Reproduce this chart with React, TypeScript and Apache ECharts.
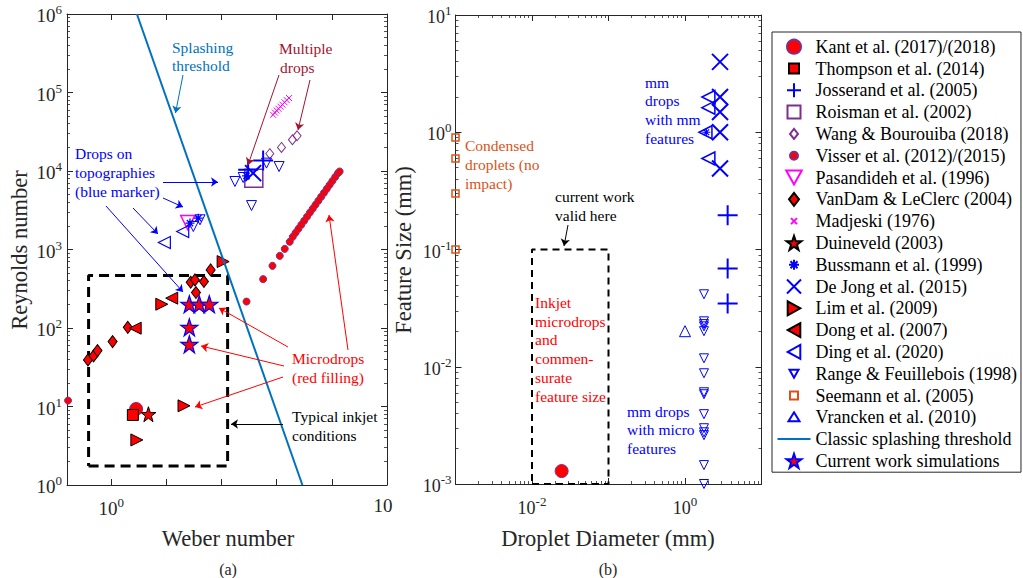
import React, { useEffect, useRef } from 'react';
import * as echarts from 'echarts';

const FONT = '"Liberation Serif", "Times New Roman", Times, serif';
const AX = '#262626';
const RED = '#FF0000';
const BLUE = '#0000FF';
const PURPLE = '#7E2F8E';
const MAGENTA = '#FF00FF';
const ORANGE = '#D95319';
const LINEBLUE = '#0072BD';
const DARKRED = '#A2142F';
const NONE = 'rgba(0,0,0,0)';

// ---------- Panel (a): Weber number vs Reynolds number ----------
const weberRange = [0.158, 1e5];
const reynoldsRange = [1, 1e6];
const weberLabelExps = [0, 5];
const weberLabelSups = ['0', ''];
const reynoldsLabelExps = [0, 1, 2, 3, 4, 5, 6];
const reynoldsLabelSups = ['0', '1', '2', '3', '4', '5', '6'];

const kantA = [[2.83, 9.3]];
const thompsonA = [[2.47, 7.8]];
const josserandA = [[304, 10350], [568, 13600]];
const roismanA = [[385, 8110]];
const wangA = [[750, 16600], [1222, 19950], [1931, 25000], [2340, 28100]];
const visserA = [
  [0.165, 11.9], [284, 217], [568, 419], [839, 619], [1138, 830], [1400, 1019], [1725, 1253],
  [1955, 1450], [2200, 1630], [2480, 1835], [2800, 2070], [3150, 2325], [3550, 2620], [4000, 2950],
  [4500, 3310], [5050, 3710], [5700, 4180], [6400, 4690], [7200, 5270], [8100, 5920], [9100, 6640],
  [10200, 7440], [11500, 8380], [12900, 9380], [13840, 9860],
];
const pasandidehA = [[24.4, 2207]];
const vanDamA = [
  [0.379, 39.2], [0.479, 44.1], [0.565, 51.5], [1.06, 67.1], [2.0, 102], [27.6, 383], [33, 410],
  [34.4, 283], [48, 391], [63.5, 550],
];
const madjeskiA = [
  [861, 52000], [930, 55500], [1000, 59000], [1080, 62000], [1170, 66000], [1270, 70000],
  [1390, 75000], [1520, 80000], [1675, 85000],
];
const duineveldA = [[4.73, 7.97]];
const bussmannA = [[26.8, 2170], [37.9, 2510], [284, 8690]];
const deJongA = [[374, 9400]];
const limA = [[2.92, 3.75], [20.9, 10.2], [8.26, 201], [107, 702]];
const dongA = [[2.72, 99.4], [12.5, 240]];
const dingA = [[9.2, 1227], [19.8, 1694]];
const rangeA = [[175, 7350], [247, 8260], [350, 3630], [1105, 11400], [654, 12600], [30.8, 1963], [40.7, 2390]];
const currentA = [[26.1, 201], [39.5, 201], [60, 201], [26.1, 102], [26.1, 62]];
const splashWe = [2.92, 2925];
const splashRe = [1e6, 1];
const inkjetBoxWe = [0.389, 129];
const inkjetBoxRe = [1.75, 466];

// ---------- Panel (b): Droplet diameter vs feature size ----------
const diameterRange = [1e-3, 10];
const featureRange = [1e-3, 10];
const diameterLabelExps = [-2, 0];
const diameterLabelSups = ['-2', '0'];
const featureLabelExps = [-3, -2, -1, 0, 1];
const featureLabelSups = ['-3', '-2', '-1', '0', '1'];

const kantB = [[0.0244, 0.00129]];
const josserandB = [[3.61, 0.196], [3.61, 0.0688], [3.61, 0.0346]];
const deJongB = [[2.87, 3.98], [2.87, 2.0], [2.87, 1.49], [2.87, 1.0], [2.87, 0.49]];
const dingB = [[2.02, 2.0], [2.02, 1.62], [1.85, 1.0], [2.02, 0.597]];
const bussmannB = [[1.9, 1.0]];
const rangeB = [
  [1.77, 0.0415], [1.77, 0.0244], [1.77, 0.0231], [1.77, 0.0221], [1.77, 0.0201], [1.77, 0.0118],
  [1.77, 0.0088], [1.77, 0.00606], [1.77, 0.00583], [1.77, 0.00394], [1.77, 0.00299],
  [1.77, 0.00276], [1.77, 0.00261], [1.77, 0.00145], [1.77, 0.001],
];
const seemannB = [[0.001, 0.9], [0.001, 0.597], [0.001, 0.3], [0.001, 0.1]];
const vranckenB = [[1.0, 0.0201]];
const currentBoxD = [0.01, 0.1];
const currentBoxF = [0.001, 0.1];

const legendNames = [
  'Kant et al. (2017)/(2018)', 'Thompson et al. (2014)', 'Josserand et al. (2005)', 'Roisman et al. (2002)',
  'Wang & Bourouiba (2018)', 'Visser et al. (2012)/(2015)', 'Pasandideh et al. (1996)', 'VanDam & LeClerc (2004)',
  'Madjeski (1976)', 'Duineveld (2003)', 'Bussmann et al. (1999)', 'De Jong et al. (2015)', 'Lim et al. (2009)',
  'Dong et al. (2007)', 'Ding et al. (2020)', 'Range & Feuillebois (1998)', 'Seemann et al. (2005)',
  'Vrancken et al. (2010)', 'Classic splashing threshold', 'Current work simulations',
];
// legend icons drawn in a 14x14 box (leading moves fix the box so smaller markers stay small)
const BOX = 'M-7,-7M7,7';
const legendIcons: Record<string, string> = {
  'Thompson et al. (2014)': `path://${BOX}M-5,-5H5V5H-5Z`,
  'Roisman et al. (2002)': `path://${BOX}M-6.5,-6.5H6.5V6.5H-6.5Z`,
  'Wang & Bourouiba (2018)': `path://${BOX}M0,-5L4,0L0,5L-4,0Z`,
  'Visser et al. (2012)/(2015)': `path://${BOX}M-4,0A4,4 0 1,0 4,0A4,4 0 1,0 -4,0Z`,
  'VanDam & LeClerc (2004)': `path://${BOX}M0,-6.5L5,0L0,6.5L-5,0Z`,
  'Madjeski (1976)': `path://${BOX}M-3,-3L3,3M3,-3L-3,3`,
  'Bussmann et al. (1999)': `path://${BOX}M0,-5V5M-5,0H5M-3.5,-3.5L3.5,3.5M3.5,-3.5L-3.5,3.5`,
  'Range & Feuillebois (1998)': `path://${BOX}M-4.5,-4L4.5,-4L0,4Z`,
  'Seemann et al. (2005)': `path://${BOX}M-4,-4H4V4H-4Z`,
  'Vrancken et al. (2010)': `path://${BOX}M0,-5L5.5,4L-5.5,4Z`,
  'Classic splashing threshold': 'path://M0,0H33V2H0Z',
};

// ---------- annotations (pixel positions) ----------
const notes: [number, number, string, string][] = [
  [172, 47, 'Splashing', LINEBLUE], [172, 65, 'threshold', LINEBLUE],
  [279, 48, 'Multiple', DARKRED], [280, 67, 'drops', DARKRED],
  [75, 153, 'Drops on', BLUE], [75, 172, 'topographies', BLUE], [75, 191, '(blue marker)', BLUE],
  [292, 358, 'Microdrops', RED], [292, 377, '(red filling)', RED],
  [292, 416, 'Typical inkjet', '#000'], [292, 435, 'conditions', '#000'],
  [645, 82, 'mm', BLUE], [645, 100, 'drops', BLUE], [645, 119, 'with mm', BLUE], [645, 138, 'features', BLUE],
  [465, 145, 'Condensed', ORANGE], [465, 164, 'droplets (no', ORANGE], [465, 183, 'impact)', ORANGE],
  [555, 196, 'current work', '#000'], [555, 215, 'valid here', '#000'],
  [535, 302, 'Inkjet', RED], [535, 321, 'microdrops', RED], [535, 339, 'and', RED],
  [535, 358, 'commen-', RED], [535, 377, 'surate', RED], [535, 396, 'feature size', RED],
  [627, 411, 'mm drops', BLUE], [627, 429, 'with micro', BLUE], [627, 448, 'features', BLUE],
];
const arrowsA: [number, number, number, number, string][] = [
  [183, 75, 175.5, 113, LINEBLUE],
  [279, 75, 248, 165, DARKRED], [310, 80, 298, 130, DARKRED],
  [163, 182, 218, 182, BLUE], [163, 198, 183, 207, BLUE], [133, 208, 158, 234, BLUE], [106, 206, 183, 292, BLUE],
  [288, 347, 219, 308, RED], [284, 366, 201, 346, RED], [283, 377, 195, 407, RED], [348, 350, 329, 215, RED],
  [283, 424, 231, 424, '#000'],
];
const arrowsB: [number, number, number, number, string][] = [[568, 225, 564, 246, '#000']];

const SYM = {
  downTri: 'path://M0,0L10,0L5,9Z',
  upTri: 'path://M5,0L10,9L0,9Z',
  rightTri: 'path://M0,0L9,5L0,10Z',
  leftTri: 'path://M9,0L0,5L9,10Z',
  plus: 'path://M5,0V10M0,5H10',
  cross: 'path://M0,0L10,10M10,0L0,10',
  asterisk: 'path://M5,0V10M0,5H10M1.5,1.5L8.5,8.5M8.5,1.5L1.5,8.5',
  star: 'path://M50,0L61.8,35.1L98.1,35.1L68.8,56.8L79.4,91.4L50,70L20.6,91.4L31.2,56.8L1.9,35.1L38.2,35.1Z',
};

function supFormatter(exps: number[], sups: string[]) {
  return (v: number) => {
    const l = Math.log10(v);
    const e = Math.round(l);
    if (Math.abs(l - e) > 1e-6) return '';
    const i = exps.indexOf(e);
    if (i < 0) return '';
    return sups[i] === '' ? '{c|10}' : `{b|10}{s|${sups[i]}}`;
  };
}

function rich(fs: number) {
  return {
    b: { fontSize: fs, fontFamily: FONT, color: AX, verticalAlign: 'bottom' },
    s: { fontSize: 13, fontFamily: FONT, color: AX, verticalAlign: 'bottom', padding: [0, 0, 9, 0] },
    c: { fontSize: fs, fontFamily: FONT, color: AX, verticalAlign: 'bottom', padding: [0, 8, 0, 0] },
  };
}

function axis(grid: number, range: number[], pos: string, fmt: any, minor: boolean, fs: number, margin: number) {
  return {
    type: 'log', logBase: 10, gridIndex: grid, min: range[0], max: range[1], position: pos, splitNumber: 5,
    axisLine: { show: true, onZero: false, lineStyle: { color: AX, width: 1 } },
    axisTick: { show: true, inside: true, length: 6, lineStyle: { color: AX, width: 1 } },
    minorTick: { show: minor, splitNumber: 9, length: 3, lineStyle: { color: AX, width: 0.8 } },
    splitLine: { show: false },
    minorSplitLine: { show: false },
    axisLabel: fmt
      ? { show: true, formatter: fmt, margin, rich: rich(fs), showMinLabel: true, showMaxLabel: true }
      : { show: false },
  };
}

function sc(name: string, data: number[][], grid: number, symbol: string, size: any, fill: string, stroke: string, bw: number, z = 3) {
  return {
    type: 'scatter', name, data, xAxisIndex: grid * 2, yAxisIndex: grid * 2, symbol, symbolSize: size,
    itemStyle: { color: fill, borderColor: stroke, borderWidth: bw, opacity: 1 },
    clip: false, z, silent: true, emphasis: { disabled: true },
  };
}

function arrowData(list: [number, number, number, number, string][]) {
  return list.map(([x1, y1, x2, y2, c]) => [
    { x: x1, y: y1, lineStyle: { color: c, width: 1, type: 'solid' }, itemStyle: { color: c } },
    { x: x2, y: y2 },
  ]);
}

function boxData(xs: number[], ys: number[]) {
  return [[xs[0], ys[0]], [xs[1], ys[0]], [xs[1], ys[1]], [xs[0], ys[1]], [xs[0], ys[0]]];
}

export default function App() {
  const ref = useRef<HTMLDivElement>(null);
  useEffect(() => {
    document.body.style.margin = '0';
    const chart = echarts.init(ref.current!, null, { renderer: 'svg' });
    const series: any[] = [
      // ----- panel a -----
      {
        type: 'line', name: 'Classic splashing threshold', xAxisIndex: 0, yAxisIndex: 0,
        data: splashWe.map((w, i) => [w, splashRe[i]]), symbol: 'none', z: 4, silent: true,
        lineStyle: { color: LINEBLUE, width: 2 }, itemStyle: { color: LINEBLUE },
        markLine: {
          silent: true, animation: false, symbol: ['none', 'arrow'], symbolSize: 7,
          label: { show: false }, data: arrowData(arrowsA),
        },
      },
      {
        type: 'line', name: 'inkjetBoxA', xAxisIndex: 0, yAxisIndex: 0, data: boxData(inkjetBoxWe, inkjetBoxRe),
        symbol: 'none', silent: true, z: 2, lineStyle: { color: '#000', width: 3, type: [10, 6] },
      },
      sc('Visser et al. (2012)/(2015)', visserA, 0, 'circle', 7, RED, PURPLE, 1),
      sc('VanDam & LeClerc (2004)', vanDamA, 0, 'diamond', [9, 12], RED, '#000', 1),
      sc('Lim et al. (2009)', limA, 0, SYM.rightTri, 12, RED, '#000', 1),
      sc('Dong et al. (2007)', dongA, 0, SYM.leftTri, 12, RED, '#000', 1),
      sc('Kant et al. (2017)/(2018)', kantA, 0, 'circle', 13, RED, PURPLE, 1),
      sc('Thompson et al. (2014)', thompsonA, 0, 'rect', 11, RED, '#000', 1),
      sc('Duineveld (2003)', duineveldA, 0, SYM.star, 15, RED, '#000', 1),
      sc('Current work simulations', currentA, 0, SYM.star, 17, RED, BLUE, 1.2, 5),
      sc('Wang & Bourouiba (2018)', wangA, 0, 'diamond', [8, 10], NONE, PURPLE, 1),
      sc('Madjeski (1976)', madjeskiA, 0, SYM.cross, 6, NONE, MAGENTA, 1),
      sc('Roisman et al. (2002)', roismanA, 0, 'rect', 18, NONE, PURPLE, 1.5),
      sc('Range & Feuillebois (1998)', rangeA, 0, SYM.downTri, 10, NONE, BLUE, 1),
      sc('Pasandideh et al. (1996)', pasandidehA, 0, SYM.downTri, 14, NONE, MAGENTA, 1.5),
      sc('Ding et al. (2020)', dingA, 0, SYM.leftTri, 12, NONE, BLUE, 1.2),
      sc('Josserand et al. (2005)', josserandA, 0, SYM.plus, 20, NONE, BLUE, 2),
      sc('De Jong et al. (2015)', deJongA, 0, SYM.cross, 16, NONE, BLUE, 2),
      sc('Bussmann et al. (1999)', bussmannA, 0, SYM.asterisk, 9, NONE, BLUE, 1.3),
      // ----- panel b -----
      {
        type: 'line', name: 'currentBoxB', xAxisIndex: 2, yAxisIndex: 2, data: boxData(currentBoxD, currentBoxF),
        symbol: 'none', silent: true, z: 2, lineStyle: { color: '#000', width: 2, type: [7, 5] },
        markLine: {
          silent: true, animation: false, symbol: ['none', 'arrow'], symbolSize: 7,
          label: { show: false }, data: arrowData(arrowsB),
        },
      },
      sc('Kant et al. (2017)/(2018)', kantB, 1, 'circle', 13, RED, PURPLE, 1),
      sc('Josserand et al. (2005)', josserandB, 1, SYM.plus, 20, NONE, BLUE, 2),
      sc('De Jong et al. (2015)', deJongB, 1, SYM.cross, 16, NONE, BLUE, 2),
      sc('Ding et al. (2020)', dingB, 1, SYM.leftTri, 13, NONE, BLUE, 1.5),
      sc('Bussmann et al. (1999)', bussmannB, 1, SYM.asterisk, 8, NONE, BLUE, 1.2),
      sc('Range & Feuillebois (1998)', rangeB, 1, SYM.downTri, 9, NONE, BLUE, 1),
      sc('Seemann et al. (2005)', seemannB, 1, 'rect', 7, NONE, ORANGE, 1.5),
      sc('Vrancken et al. (2010)', vranckenB, 1, SYM.upTri, 11, NONE, BLUE, 1),
    ];

    const graphic: any[] = notes.map(([x, y, t, c]) => ({
      type: 'text', x, y, silent: true,
      style: { text: t, fill: c, fontSize: 15.5, fontFamily: FONT, align: 'left', verticalAlign: 'middle' },
    }));
    const title = (x: number, y: number, t: string, rot: number, fs: number) => ({
      type: 'text', x, y, rotation: rot, silent: true,
      style: { text: t, fill: AX, fontSize: fs, fontFamily: FONT, align: 'center', verticalAlign: 'middle' },
    });
    graphic.push(title(19, 250, 'Reynolds number', Math.PI / 2, 22.5));
    graphic.push(title(228, 538, 'Weber number', 0, 22.5));
    graphic.push(title(403, 250, 'Feature Size (mm)', Math.PI / 2, 22.5));
    graphic.push(title(608, 538, 'Droplet Diameter (mm)', 0, 22.5));
    graphic.push(title(228, 569, '(a)', 0, 16));
    graphic.push(title(608, 569, '(b)', 0, 16));

    chart.setOption({
      animation: false,
      backgroundColor: '#fff',
      grid: [
        { left: 67, top: 14, width: 320, height: 471 },
        { left: 455.5, top: 15, width: 306, height: 469 },
      ],
      xAxis: [
        axis(0, weberRange, 'bottom', supFormatter(weberLabelExps, weberLabelSups), false, 19, 11),
        axis(0, weberRange, 'top', null, false, 19, 0),
        axis(1, diameterRange, 'bottom', supFormatter(diameterLabelExps, diameterLabelSups), true, 18, 11),
        axis(1, diameterRange, 'top', null, true, 18, 0),
      ],
      yAxis: [
        axis(0, reynoldsRange, 'left', supFormatter(reynoldsLabelExps, reynoldsLabelSups), true, 19, 5),
        axis(0, reynoldsRange, 'right', null, true, 19, 0),
        axis(1, featureRange, 'left', supFormatter(featureLabelExps, featureLabelSups), true, 18, 4),
        axis(1, featureRange, 'right', null, true, 18, 0),
      ],
      legend: {
        orient: 'vertical', left: 772, top: 32, padding: [5.7, 4, 2.3, 5.5],
        itemWidth: 33, itemHeight: 14, itemGap: 3.8, symbolKeepAspect: true,
        borderColor: AX, borderWidth: 1, selectedMode: false,
        textStyle: { fontFamily: FONT, fontSize: 18, color: '#000', lineHeight: 18 },
        data: legendNames.map((n) => (legendIcons[n] ? { name: n, icon: legendIcons[n] } : { name: n })),
      },
      graphic,
      series,
    });
    return () => chart.dispose();
  }, []);
  return <div ref={ref} style={{ width: 1023, height: 578 }} />;
}
